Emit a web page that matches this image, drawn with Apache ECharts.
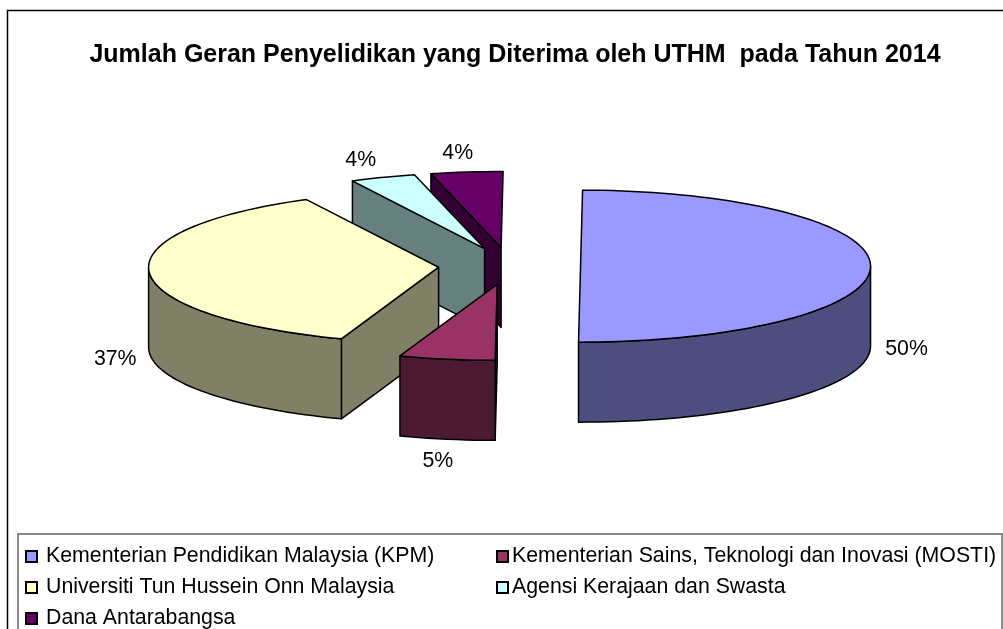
<!DOCTYPE html>
<html><head><meta charset="utf-8">
<style>html,body{margin:0;padding:0;background:#fff}#c{width:1003px;height:629px}</style>
<script src="https://cdn.jsdelivr.net/npm/echarts@6/dist/echarts.min.js"></script>
</head><body><div id="c"></div>
<script>
var titleText = 'Jumlah Geran Penyelidikan yang Diterima oleh UTHM  pada Tahun 2014';
var categories = ['Kementerian Pendidikan Malaysia (KPM)','Kementerian Sains, Teknologi dan Inovasi (MOSTI)','Universiti Tun Hussein Onn Malaysia','Agensi Kerajaan dan Swasta','Dana Antarabangsa'];
var values = [50, 5.33, 37.03, 3.64, 4.0];
var topColors = ['#9999FF','#993366','#FFFFCC','#CCFFFF','#660066'];
var wallColors = ['#4D4D80','#4D1A33','#808066','#668080','#330033'];
var labelOffsets = [[36,82],[-9,102],[-34,87],[-22,-17],[-9,-19]];
var legendCells = [[0,0],[1,0],[0,1],[1,1],[0,2]];

var PIE = {cx:509.5, cy:266, rx:290, ry:76, depth:80, explode:0.245, rotation:0.4};
var FONT = '"Liberation Sans", Arial, sans-serif';
var total = values.reduce(function(a,b){return a+b;},0);
var D = Math.PI/180;

function sliceAngles(i){
  var s = 0; for (var k=0;k<i;k++) s += values[k];
  return [PIE.rotation + s/total*360, PIE.rotation + (s+values[i])/total*360];
}
function sliceCenter(mid){return [PIE.cx+PIE.explode*PIE.rx*Math.sin(mid*D), PIE.cy-PIE.explode*PIE.ry*Math.cos(mid*D)];}
function rimPoint(c,a,dz){return [c[0]+PIE.rx*Math.sin(a*D), c[1]-PIE.ry*Math.cos(a*D)+(dz||0)];}
function arcPts(c,a0,a1,dz){
  var pts=[], n=Math.max(2,Math.ceil(Math.abs(a1-a0)/2));
  for(var j=0;j<=n;j++) pts.push(rimPoint(c,a0+(a1-a0)*j/n,dz));
  return pts;
}
function poly(points,fill){
  return {type:'polygon',shape:{points:points},style:{fill:fill,stroke:'#000',lineWidth:1.5,lineJoin:'round'}};
}
function makeRender(i){
  return function(){
    var ang = sliceAngles(i), a0=ang[0], a1=ang[1], mid=(a0+a1)/2;
    var c=sliceCenter(mid);
    var kids=[], d=PIE.depth;
    var cd=[c[0],c[1]+d];
    if (Math.cos((a1+90)*D)<-0.05) kids.push(poly([c,rimPoint(c,a1),rimPoint(c,a1,d),cd],wallColors[i]));
    if (Math.cos((a0-90)*D)<0) kids.push(poly([c,rimPoint(c,a0),rimPoint(c,a0,d),cd],wallColors[i]));
    var f0=Math.max(a0,90), f1=Math.min(a1,270);
    if (f1>f0){
      kids.push(poly(arcPts(c,f0,f1,0).concat(arcPts(c,f1,f0,d)),wallColors[i]));
    }
    kids.push(poly([c].concat(arcPts(c,a0,a1,0)),topColors[i]));
    return {type:'group',children:kids};
  };
}
function labelRender(i){
  return function(){
    var ang=sliceAngles(i), mid=(ang[0]+ang[1])/2;
    var r=rimPoint(sliceCenter(mid),mid);
    return {type:'text',style:{x:r[0]+labelOffsets[i][0],y:r[1]+labelOffsets[i][1],text:Math.round(values[i]/total*100)+'%',
      fill:'#000',font:'21.3px '+FONT,align:'center',verticalAlign:'middle'}};
  };
}
var drawOrder=[4,3,2,1,0], zOf={};
drawOrder.forEach(function(idx,pos){zOf[idx]=pos+2;});
var series=categories.map(function(name,i){
  return {type:'custom',name:name,coordinateSystem:'none',z:zOf[i],silent:true,animation:false,
    itemStyle:{color:topColors[i],borderColor:'#000',borderWidth:1},
    data:[values[i]],renderItem:makeRender(i)};
});
categories.forEach(function(name,i){
  series.push({type:'custom',coordinateSystem:'none',z:20,silent:true,animation:false,
    data:[values[i]],renderItem:labelRender(i)});
});
var colX=[25,496], colPad=[4,-1], rowTop=[546,577,608];
var legends=categories.map(function(name,i){
  var cell=legendCells[i];
  return {orient:'horizontal',data:[name],left:colX[cell[0]],top:rowTop[cell[1]],itemWidth:11,itemHeight:11,icon:'rect',
    selectedMode:false,padding:0,textStyle:{fontFamily:FONT,fontSize:21.3,color:'#000',padding:[0,0,0,colPad[cell[0]]]}};
});
var chart=echarts.init(document.getElementById('c'),null,{renderer:'canvas'});
chart.setOption({
  animation:false,backgroundColor:'#fff',
  title:{text:titleText,left:515,top:43,textAlign:'center',padding:0,textStyle:{fontFamily:FONT,fontWeight:'bold',fontSize:25,color:'#000'}},
  graphic:[
    {type:'rect',shape:{x:7.5,y:10.5,width:1100,height:700},style:{fill:'none',stroke:'#000',lineWidth:1.5},z:0},
    {type:'rect',shape:{x:18,y:534,width:984,height:200},style:{fill:'none',stroke:'#666',lineWidth:1.5},z:0}
  ],
  legend:legends,
  series:series
});
</script></body></html>
